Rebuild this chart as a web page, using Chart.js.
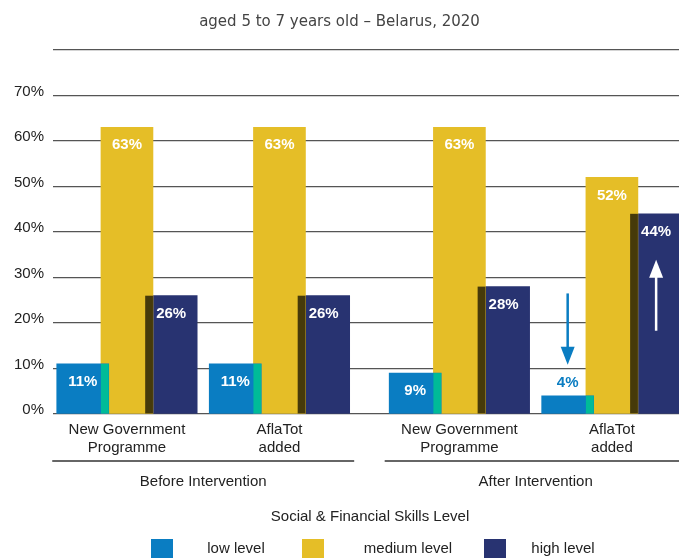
<!DOCTYPE html>
<html>
<head>
<meta charset="utf-8">
<script src="https://cdn.jsdelivr.net/npm/chart.js@4.4.0/dist/chart.umd.min.js"></script>
<style>
  html, body { margin: 0; padding: 0; background: #fff; }
  #wrap { width: 679px; height: 558px; }
</style>
</head>
<body>
<div id="wrap"><canvas id="myChart"></canvas></div>
<script>
const chartTitle = 'aged 5 to 7 years old – Belarus, 2020';
const programmes = [['New Government', 'Programme'], ['AflaTot', 'added'], ['New Government', 'Programme'], ['AflaTot', 'added']];
const phases = ['Before Intervention', 'After Intervention'];
const phaseOf = [0, 0, 1, 1];
const levels = ['low level', 'medium level', 'high level'];
const lowLevel = [11, 11, 9, 4];
const mediumLevel = [63, 63, 63, 52];
const highLevel = [26, 26, 28, 44];
const yTicks = [0, 10, 20, 30, 40, 50, 60, 70, 80];
const legendTitle = 'Social & Financial Skills Level';
// arrows drawn on the last programme: level index, from %, to %
const arrows = [
  {group: 3, level: 0, from: 26.5, to: 10.8},
  {group: 3, level: 2, from: 18.3, to: 33.9}
];

// layout / styles
const groupX = [0, 1, 2.18, 3.18];
const barShift = 0.29;
const colors = ['#0a7dc2', '#e5be27', '#283371'];
const overlapColors = ['#00bb98', '#463a0a'];
const arrowColors = ['#0a7dc2', '#ffffff'];
const font = 'Liberation Sans';

const series = [lowLevel, mediumLevel, highLevel];
const datasets = series.map((vals, k) => ({
  label: levels[k],
  data: vals.map((v, i) => ({x: groupX[i] + (k - 1) * barShift, y: v})),
  backgroundColor: colors[k],
  barThickness: 52,
  grouped: false
}));

const extras = {
  id: 'extras',
  afterDatasetsDraw(chart) {
    const ctx = chart.ctx;
    const area = chart.chartArea;
    const bars = [0, 1, 2].map(k => chart.getDatasetMeta(k).data);
    ctx.save();
    ctx.beginPath();
    ctx.rect(area.left, area.top, area.right - area.left, area.bottom - area.top);
    ctx.clip();
    // where two bars overlap
    for (let k = 0; k < 2; k++) {
      bars[k].forEach((a, i) => {
        const b = bars[k + 1][i];
        const left = b.x - b.width / 2;
        const right = a.x + a.width / 2;
        const top = Math.max(a.y, b.y);
        ctx.fillStyle = overlapColors[k];
        ctx.fillRect(left, top, right - left, a.base - top);
      });
    }
    // value labels
    ctx.font = 'bold 15px "' + font + '"';
    ctx.textAlign = 'center';
    ctx.textBaseline = 'middle';
    bars.forEach((els, k) => {
      els.forEach((el, i) => {
        const v = series[k][i];
        if (v < 6) {
          ctx.fillStyle = colors[k];
          ctx.fillText(v + '%', el.x, el.y - 13);
        } else {
          ctx.fillStyle = '#fff';
          ctx.fillText(v + '%', el.x, el.y + 18);
        }
      });
    });
    // arrows
    const yS = chart.scales.y;
    arrows.forEach((a, n) => {
      const el = bars[a.level][a.group];
      const x = el.x;
      const y1 = yS.getPixelForValue(a.from);
      const y2 = yS.getPixelForValue(a.to);
      const dir = y2 > y1 ? 1 : -1;
      ctx.strokeStyle = arrowColors[n];
      ctx.fillStyle = arrowColors[n];
      ctx.lineWidth = 2.5;
      ctx.beginPath();
      ctx.moveTo(x, y1);
      ctx.lineTo(x, y2 - dir * 12);
      ctx.stroke();
      ctx.beginPath();
      ctx.moveTo(x - 7, y2 - dir * 18);
      ctx.lineTo(x + 7, y2 - dir * 18);
      ctx.lineTo(x, y2);
      ctx.closePath();
      ctx.fill();
    });
    ctx.restore();
  },
  afterDraw(chart) {
    const ctx = chart.ctx;
    const xS = chart.scales.x;
    ctx.save();
    ctx.font = '15px "' + font + '"';
    ctx.textAlign = 'center';
    ctx.textBaseline = 'middle';
    phases.forEach((p, j) => {
      const idx = phaseOf.map((q, i) => q === j ? i : -1).filter(i => i >= 0);
      const x0 = xS.getPixelForValue(groupX[idx[0]] - 0.49);
      const x1 = Math.min(xS.getPixelForValue(groupX[idx[idx.length - 1]] + 0.49), chart.width);
      ctx.strokeStyle = '#333';
      ctx.lineWidth = 1.3;
      ctx.beginPath();
      ctx.moveTo(x0, 461);
      ctx.lineTo(x1, 461);
      ctx.stroke();
      const cx = (xS.getPixelForValue(groupX[idx[0]]) + xS.getPixelForValue(groupX[idx[idx.length - 1]])) / 2;
      ctx.fillStyle = '#222';
      ctx.fillText(p, cx, 482);
    });
    // legend
    ctx.fillText(legendTitle, 370, 517);
    const boxX = [151, 302, 484];
    const textX = [236, 408, 563];
    levels.forEach((l, k) => {
      ctx.fillStyle = colors[k];
      ctx.fillRect(boxX[k], 539, 22, 20);
      ctx.fillStyle = '#222';
      ctx.fillText(l, textX[k], 549);
    });
    ctx.restore();
  }
};

new Chart(document.getElementById('myChart'), {
  type: 'bar',
  data: { datasets: datasets },
  plugins: [extras],
  options: {
    responsive: true,
    maintainAspectRatio: false,
    animation: false,
    layout: { padding: 0 },
    plugins: {
      legend: { display: false },
      tooltip: { enabled: false },
      title: {
        display: true,
        text: chartTitle,
        color: '#444',
        font: { family: 'DejaVu Sans', size: 15, weight: 'normal' },
        padding: { top: 13, bottom: 19 }
      }
    },
    scales: {
      x: {
        type: 'linear',
        min: -0.485,
        max: 3.62,
        offset: false,
        afterBuildTicks: s => { s.ticks = groupX.map(v => ({value: v})); },
        ticks: {
          callback: (v, i) => programmes[i],
          autoSkip: false,
          maxRotation: 0,
          color: '#222',
          font: { family: font, size: 15 },
          padding: 7
        },
        grid: { display: false, drawTicks: false },
        border: { display: false },
        afterFit: s => { s.height = 144; }
      },
      y: {
        min: 0,
        max: 80,
        afterBuildTicks: s => { s.ticks = yTicks.map(v => ({value: v})); },
        ticks: {
          callback: v => v === 80 ? '' : v + '%',
          color: '#222',
          font: { family: font, size: 15 },
          padding: 9,
          labelOffset: -4
        },
        grid: { color: '#555', lineWidth: 1.2, drawTicks: false },
        border: { display: false },
        afterFit: s => { s.width = 53; }
      }
    }
  }
});
</script>
</body>
</html>
